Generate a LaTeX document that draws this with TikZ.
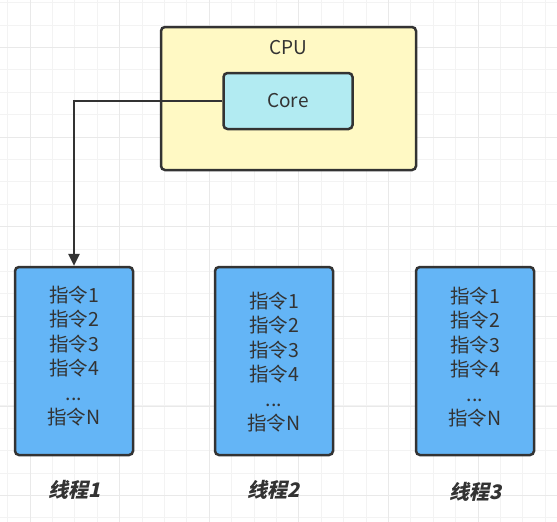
\documentclass[tikz,border=0pt]{standalone}
\usepackage{fontspec}
\setmainfont{Noto Sans CJK SC}
\newfontfamily\lblfont{Noto Sans CJK SC}[FakeSlant=0.22]
\usetikzlibrary{arrows.meta}

\definecolor{edge}{HTML}{333333}
\definecolor{cpufill}{HTML}{FFF9C4}
\definecolor{corefill}{HTML}{B2EBF2}
\definecolor{thrfill}{HTML}{64B5F6}
\definecolor{gridminor}{HTML}{F3F3F3}
\definecolor{gridmajor}{HTML}{E9E9E9}

\tikzset{
  box/.style={draw=edge, line width=2.5pt, rounded corners=4pt, inner sep=0pt},
  cpubox/.style={box, fill=cpufill, minimum width=255pt, minimum height=143pt},
  corebox/.style={box, fill=corefill, minimum width=129pt, minimum height=56pt,
    font=\fontsize{19}{23}\selectfont, text=edge},
  thrbox/.style={box, fill=thrfill, minimum width=118pt, minimum height=188pt},
  instr/.style={align=center, text=edge, font=\fontsize{19.5}{24.4}\selectfont},
  thrlabel/.style={text=edge, font=\lblfont\bfseries\fontsize{20}{22}\selectfont},
  link/.style={draw=edge, line width=2.6pt, -{Triangle[length=12pt,width=11pt]}},
}

\begin{document}
\begin{tikzpicture}[x=1pt,y=-1pt]
  \useasboundingbox (0,0) rectangle (557,522);
  \fill[white] (0,0) rectangle (557,522);

  % background grid: minor every 22.4, major every fourth line
  \foreach \i in {0,...,24} {
    \draw[gridminor, line width=1pt] ({7.6+22.4*\i},0) -- ({7.6+22.4*\i},522);
    \draw[gridminor, line width=1pt] (0,{2.7+22.4*\i}) -- (557,{2.7+22.4*\i});
  }
  \foreach \i in {0,...,6} {
    \draw[gridmajor, line width=1pt] ({30+89.6*\i},0) -- ({30+89.6*\i},522);
    \draw[gridmajor, line width=1pt] (0,{47.7+89.6*\i}) -- (557,{47.7+89.6*\i});
  }

  % processor with one core
  \node[cpubox] (cpu) at (288.5,98.5) {};
  \node[text=edge, font=\fontsize{19}{23}\selectfont] (cpulabel) at (288.5,48) {CPU};
  \node[corebox] (core) at (288,101) {Core};

  % three threads and their instruction lists
  \node[thrbox] (t1) at (74,361) {};
  \node[thrbox] (t2) at (274,361) {};
  \node[thrbox] (t3) at (475,361) {};

  \node[instr] (i1) at (74,356) {指令1\\指令2\\指令3\\指令4\\...\\指令N};
  \node[instr] (i2) at (274,362) {指令1\\指令2\\指令3\\指令4\\...\\指令N};
  \node[instr] (i3) at (475,357) {指令1\\指令2\\指令3\\指令4\\...\\指令N};

  \node[thrlabel] (l1) at (75,490) {线程1};
  \node[thrlabel] (l2) at (274,490) {线程2};
  \node[thrlabel] (l3) at (476,492) {线程3};

  % the core runs thread 1
  \draw[link] (core.west) -| (t1.north);
\end{tikzpicture}
\end{document}
